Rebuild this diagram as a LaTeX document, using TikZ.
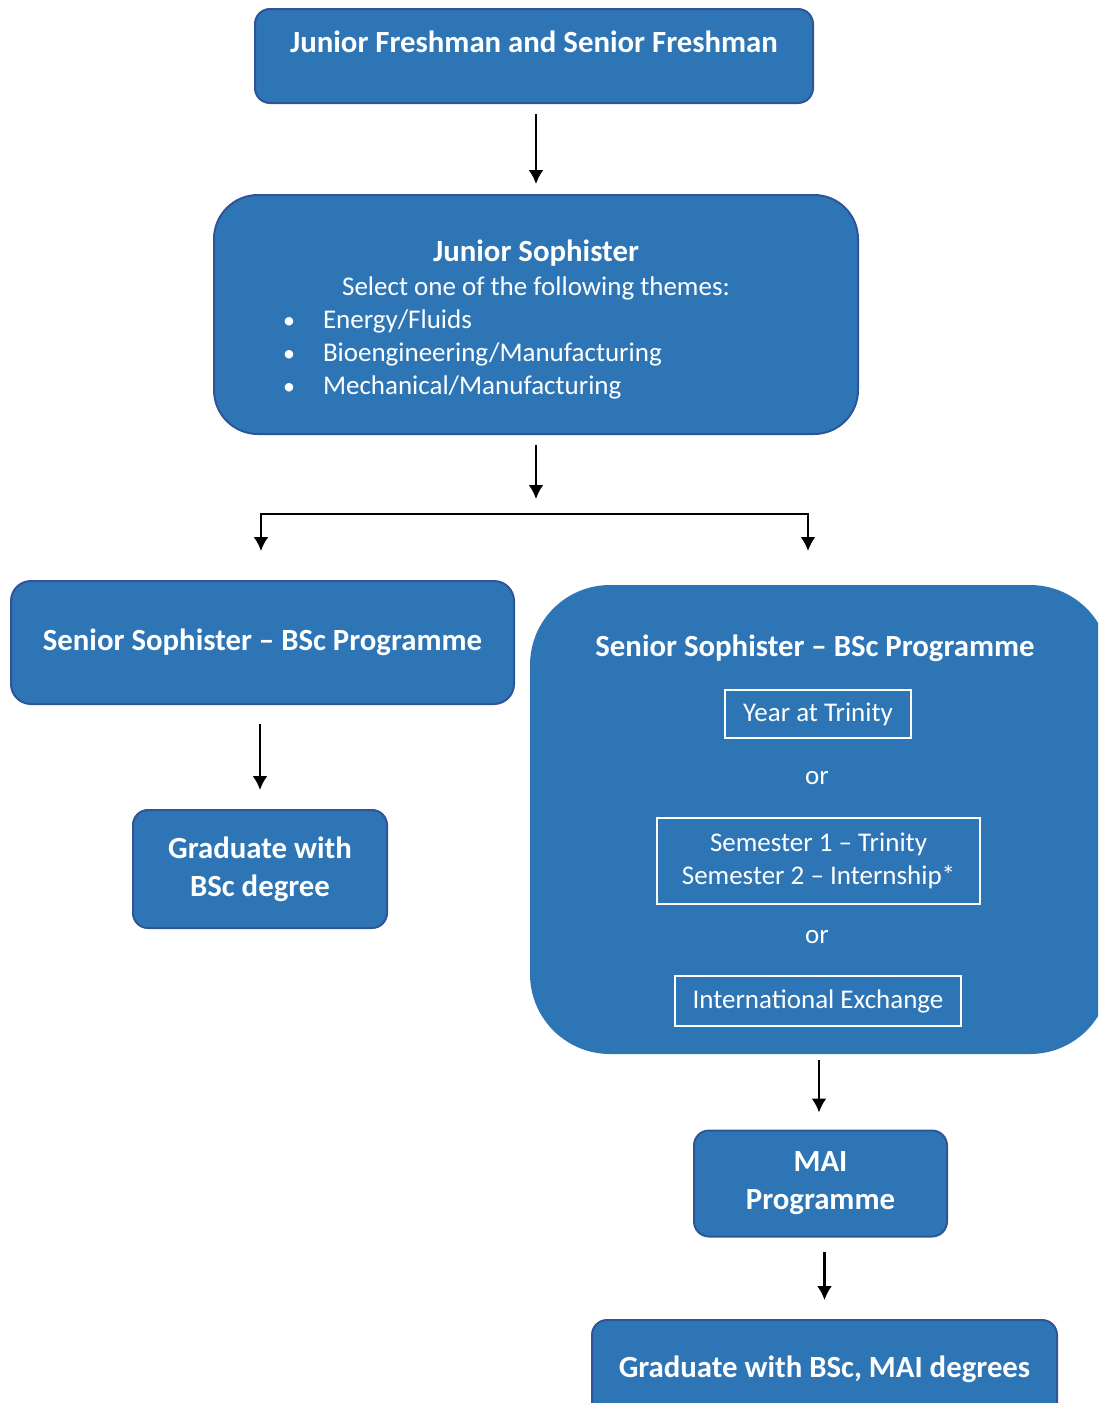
\documentclass[tikz,border=0pt]{standalone}
\usepackage{fontspec}
\setmainfont{Carlito}
\usetikzlibrary{positioning}
\usetikzlibrary{arrows.meta}

\definecolor{boxblue}{RGB}{46,117,182}
\definecolor{boxedge}{RGB}{47,85,151}
\newcommand\bodysize{\fontsize{13.5}{16.5}\selectfont}
\newcommand\bigsize{\fontsize{15.4}{19}\selectfont}
\newcommand\theme[1]{\hspace*{28.5pt}\makebox[20pt][l]{\fontsize{12}{12}\selectfont\textbullet}#1}

\tikzset{
	stage/.style={draw=boxedge, fill=boxblue, line width=1pt, text=white, rounded corners=7.5pt, align=center, inner sep=0pt, font=\bigsize\bfseries},
	option/.style={draw=white, line width=1pt, text=white, align=center, inner sep=0pt, font=\bodysize},
	flow/.style={-{Latex[length=7pt,width=7.5pt]}, line width=1.2pt, shorten <=5pt, shorten >=5pt},
}

\begin{document}
\begin{tikzpicture}[x=0.5pt,y=-0.5pt]
		\useasboundingbox (0,0) rectangle (1098,1403);
		\clip (0,0) rectangle (1098,1403);
		% first two years
		\node [stage, minimum width=279pt, minimum height=47pt] (fresh) at (534,56) {Junior Freshman and Senior Freshman\\[-5pt] \mbox{}};
		\node [stage, font=\bodysize, rounded corners=22pt, minimum width=322pt, minimum height=119.5pt] (jsoph) at (536,314.5) {%
			\parbox{310pt}{\vspace*{5pt}\centering{\fontsize{15.4}{17.5}\selectfont\bfseries Junior Sophister\par}
			\vspace{0.5pt}Select one of the following themes:\par
			\raggedright
			\theme{Energy/Fluids}\\
			\theme{Bioengineering/Manufacturing}\\
			\theme{Mechanical/Manufacturing}}%
		};
		\coordinate (split) at (536,514);
		\coordinate (forkL) at (261,551);
		\coordinate (forkR) at (808,551);
		% BSc route
		\node [stage, rounded corners=10pt, minimum width=251.5pt, minimum height=61.5pt] (ssbsc) at (262.5,642.5) {Senior Sophister -- BSc Programme};
		\node [stage, minimum width=127pt, minimum height=59pt] (grad) at (260,869) {Graduate with\\BSc degree};
		% MAI route
		\node [stage, draw=none, rounded corners=40pt, minimum width=290pt, minimum height=234.5pt] (ssmai) at (820,819.5) {};
		\node [text=white, font=\bigsize\bfseries] (ssmaititle) at (815,648) {Senior Sophister -- BSc Programme};
		\node [option, minimum width=93pt, minimum height=24pt] (year) at (818,714) {Year at Trinity};
		\node [text=white, font=\bodysize] (or1) at (817,778) {or};
		\node [option, minimum width=161.5pt, minimum height=43pt] (sem) at (818.5,861) {Semester 1 -- Trinity\\Semester 2 -- Internship*};
		\node [text=white, font=\bodysize] (or2) at (817,937) {or};
		\node [option, minimum width=143pt, minimum height=25pt] (intl) at (818,1001) {International Exchange};
		\node [stage, minimum width=126.5pt, minimum height=53pt] (mai) at (820.5,1183.5) {MAI\\Programme};
		\node [stage, minimum width=232.5pt, minimum height=49.5pt] (gradmai) at (824.5,1369.5) {Graduate with BSc, MAI degrees};
		% arrows
		\draw [flow] (jsoph.north |- fresh.south) -- (jsoph.north);
		\draw [flow, shorten >=7.5pt] (jsoph.south) -- (split);
		\draw [flow, shorten <=0pt, shorten >=0pt, {Latex[length=7pt,width=7.5pt]}-{Latex[length=7pt,width=7.5pt]}] (forkL) |- (split) -| (forkR);
		\draw [flow, shorten <=9.5pt, shorten >=9.5pt] (grad.north |- ssbsc.south) -- (grad.north);
		\draw [flow, shorten <=3pt, shorten >=8.5pt] (819,1054) coordinate (maitop) -- (maitop |- mai.north);
		\draw [flow, shorten <=7pt, shorten >=9.5pt] (gradmai.north |- mai.south) -- (gradmai.north);
	\end{tikzpicture}
\end{document}
